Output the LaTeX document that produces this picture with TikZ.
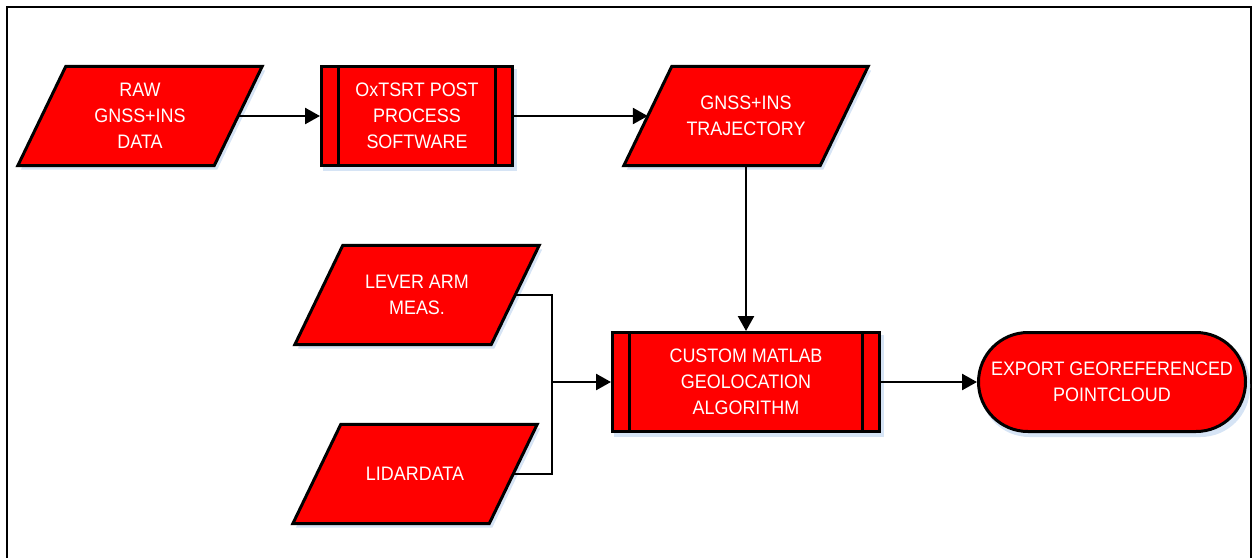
\documentclass[tikz,border=0pt]{standalone}
\usepackage{fontspec}
\newfontfamily\labfont[FakeStretch=0.92]{Liberation Sans}
\usetikzlibrary{arrows.meta,backgrounds,calc}
\definecolor{shadowc}{RGB}{214,228,245}
\tikzset{
  lab/.style={inner sep=0pt, align=center, text=white,
    font=\labfont\fontsize{19.5}{26}\selectfont},
  iobox/.style={lab, minimum width=196pt, minimum height=99pt},
  procbox/.style={lab, draw=black, fill=red, line width=3pt, minimum width=#1, minimum height=99pt},
  termbox/.style={lab, draw=black, fill=red, line width=3pt, minimum width=267pt, minimum height=99pt, rounded corners=49.5pt},
  shapeline/.style={draw=black, fill=red, line width=3pt, line join=miter},
  wire/.style={draw=black, line width=2.5pt},
  conn/.style={wire, -{Triangle[length=15pt,width=16pt]}},
  barline/.style={draw=black, line width=3pt},
}
\newcommand\parashape[1]{%
  \fill[shadowc] ($(#1.north west)+(27,4)$) -- ($(#1.north east)+(27,4)$) -- ($(#1.south east)+(-21,4)$) -- ($(#1.south west)+(-21,4)$) -- cycle;
  \path[shapeline] ($(#1.north west)+(24,0)$) -- ($(#1.north east)+(24,0)$) -- ($(#1.south east)+(-24,0)$) -- ($(#1.south west)+(-24,0)$) -- cycle;}
\newcommand\boxshadow[1]{%
  \fill[shadowc] ($(#1.north west)+(3,4)$) rectangle ($(#1.south east)+(3,4)$);}
\begin{document}
\begin{tikzpicture}[x=1pt,y=-1pt]
\useasboundingbox (0,0) rectangle (1257,557);
\clip (0,0) rectangle (1257,557);
% nodes
\node[iobox] (raw) at (140,116) {RAW\\GNSS+INS\\DATA};
\node[procbox=191pt] (ox) at (417,116) {OxTSRT POST\\PROCESS\\SOFTWARE};
\node[iobox] (traj) at (746,116) {GNSS+INS\\TRAJECTORY};
\node[iobox] (lever) at (417,295) {LEVER ARM\\MEAS.};
\node[iobox] (lidar) at (415,474) {LIDARDATA};
\node[procbox=267pt] (mat) at (746,382) {CUSTOM MATLAB\\GEOLOCATION\\ALGORITHM};
\node[termbox] (exp) at (1112,382) {EXPORT GEOREFERENCED\\POINTCLOUD};
\coordinate (junc) at (552,382);
% subprocess bars
\foreach \n in {ox,mat}{
  \draw[barline] ([xshift=18.5pt]\n.north west) -- ([xshift=18.5pt]\n.south west);
  \draw[barline] ([xshift=-18.5pt]\n.north east) -- ([xshift=-18.5pt]\n.south east);
}
% background shapes
\begin{scope}[on background layer]
  \draw[line width=2pt] (7,570) -- (7,7) -- (1251,7) -- (1251,570);
  \parashape{raw}
  \parashape{traj}
  \parashape{lever}
  \parashape{lidar}
  \boxshadow{ox}
  \boxshadow{mat}
  \fill[shadowc, rounded corners=49.5pt] ($(exp.north west)+(3,4)$) rectangle ($(exp.south east)+(3,4)$);
\end{scope}
% connectors
\draw[conn] (raw.east) -- (ox.west);
\draw[conn] (ox.east) -- (traj.west);
\draw[conn] (traj.south) -- (mat.north);
\draw[wire] (lever.east) -| (junc) |- (lidar.east);
\draw[conn] (junc) -- (mat.west);
\draw[conn] (mat.east) -- (exp.west);
\end{tikzpicture}
\end{document}
